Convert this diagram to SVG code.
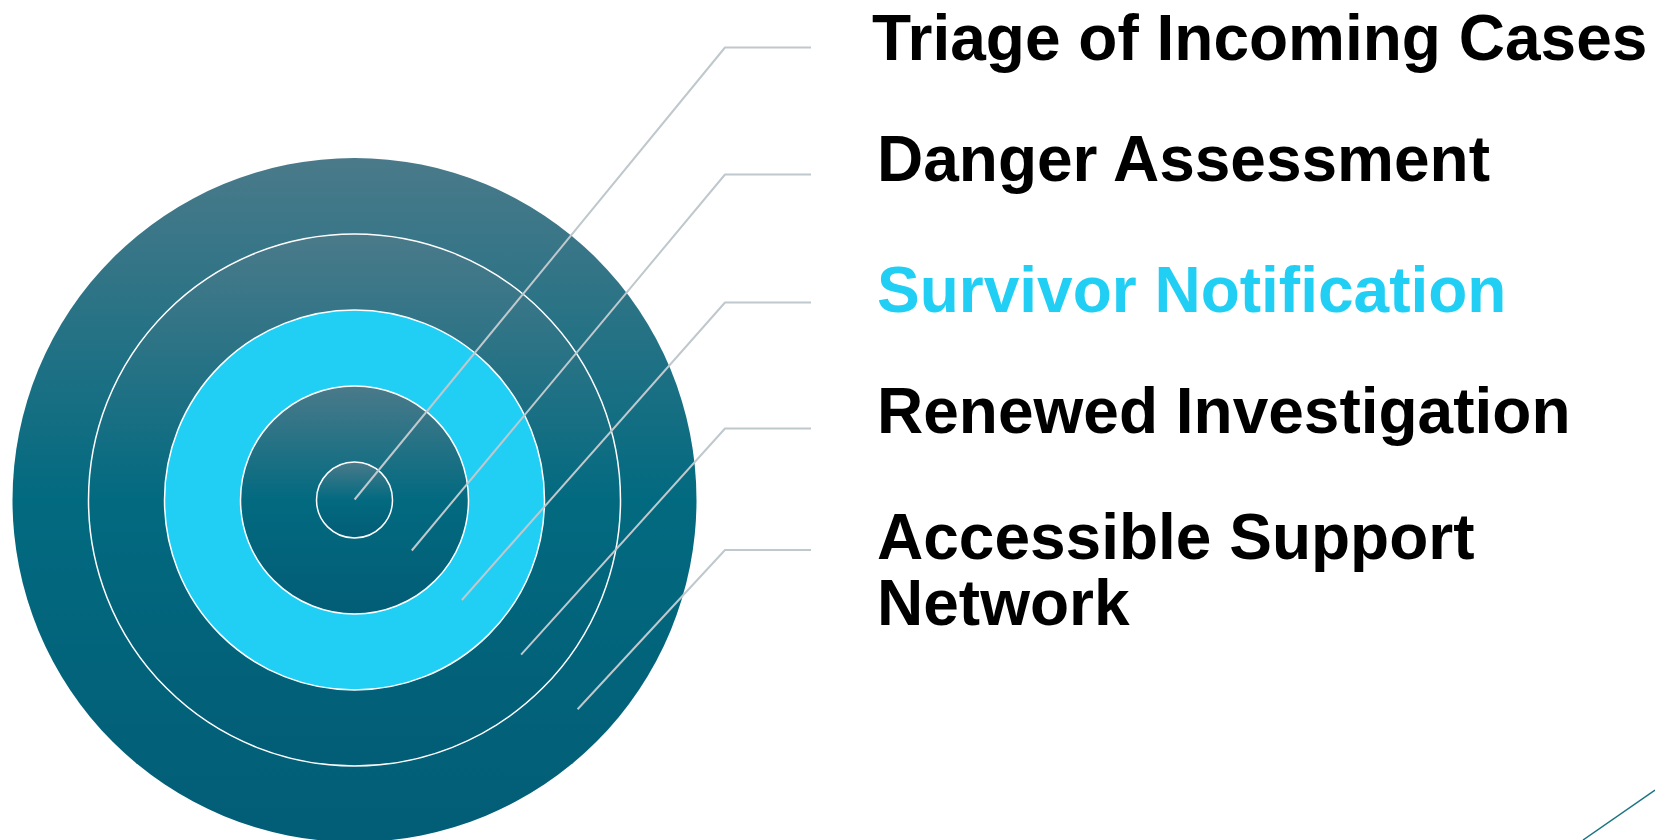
<svg xmlns="http://www.w3.org/2000/svg" width="1655" height="840" viewBox="0 0 1655 840">
  <defs>
    <linearGradient id="teal" x1="0" y1="0" x2="0" y2="1">
      <stop offset="0" stop-color="#4a7a8a"/>
      <stop offset="0.5" stop-color="#026a80"/>
      <stop offset="1" stop-color="#025d76"/>
    </linearGradient>
    <style>
      .ring { stroke: #ffffff; stroke-width: 1.5; }
      .tealfill { fill: url(#teal); }
      .cyan { fill: #22cff4; }
      .leader { fill: none; stroke: #bfc8cd; stroke-width: 2; stroke-linejoin: round; }
      .label { font-family: "Liberation Sans", Arial, sans-serif; font-weight: bold; font-size: 64px; fill: #000000; }
      .label.hl { fill: #22cff4; }
    </style>
  </defs>
  <rect width="1655" height="840" fill="#ffffff"/>

  <g id="ring-outer">
    <circle cx="354.5" cy="500" r="342" class="tealfill"/>
  </g>
  <g id="ring-2">
    <circle cx="354.5" cy="500" r="266" class="tealfill ring"/>
  </g>
  <g id="ring-3">
    <circle cx="354.5" cy="500" r="190" class="cyan ring"/>
  </g>
  <g id="ring-4">
    <circle cx="354.5" cy="500" r="114" class="tealfill ring"/>
  </g>
  <g id="ring-5">
    <circle cx="354.5" cy="500" r="38" class="tealfill ring"/>
  </g>

  <g id="connectors">
    <polyline class="leader" points="354.6,499.5 725,47.5 811,47.5"/>
    <polyline class="leader" points="411.8,550.5 725,174.5 811,174.5"/>
    <polyline class="leader" points="461.9,600 725,302.5 811,302.5"/>
    <polyline class="leader" points="521.1,654.7 725,428.5 811,428.5"/>
    <polyline class="leader" points="577.6,709.2 725,550 811,550"/>
  </g>

  <g id="label-1">
    <text class="label" x="872" y="60">Triage of Incoming Cases</text>
  </g>
  <g id="label-2">
    <text class="label" x="877" y="181">Danger Assessment</text>
  </g>
  <g id="label-3">
    <text class="label hl" x="877" y="312">Survivor Notification</text>
  </g>
  <g id="label-4">
    <text class="label" x="877" y="433">Renewed Investigation</text>
  </g>
  <g id="label-5">
    <text class="label" x="877" y="559">Accessible Support<tspan x="877" y="625">Network</tspan></text>
  </g>

  <line x1="1655" y1="790" x2="1583" y2="840" stroke="#1b7384" stroke-width="1.5"/>
</svg>
